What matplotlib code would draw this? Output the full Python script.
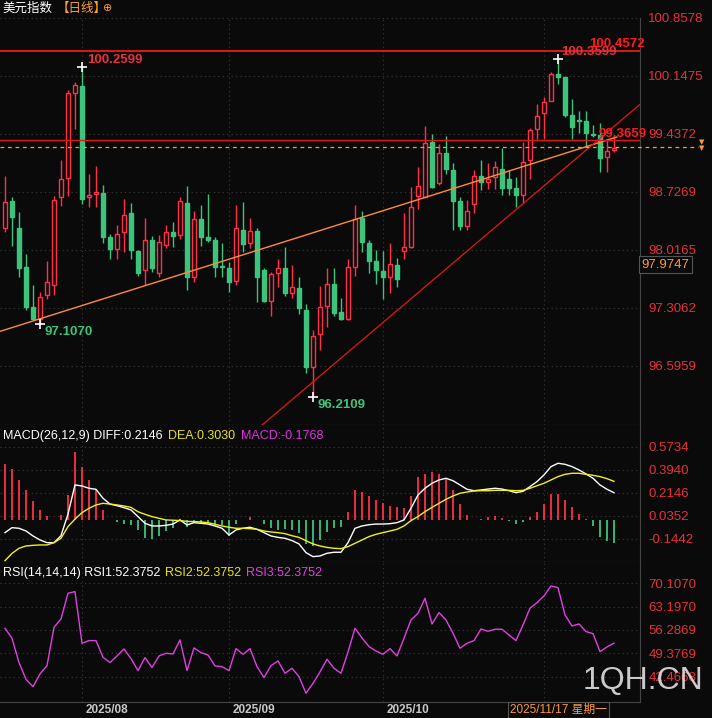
import numpy as np
import matplotlib
matplotlib.use("Agg")
import matplotlib.pyplot as plt

plt.rcParams['font.family'] = ['Liberation Sans', 'Noto Sans CJK SC', 'DejaVu Sans']

# daily candles, 美元指数
opens = [98.28, 98.62, 98.28, 97.81, 97.32, 97.17, 97.47, 97.59, 98.66, 98.90,
         99.94, 100.03, 98.66, 98.70, 98.72, 98.18, 98.03, 98.24, 98.47, 98.01,
         97.77, 98.14, 97.74, 98.08, 98.24, 98.20, 98.59, 97.69, 98.40, 98.18,
         98.14, 97.82, 97.80, 97.64, 98.26, 98.10, 98.25, 97.77, 97.39, 97.74,
         97.80, 97.49, 97.55, 97.28, 96.58, 96.99, 97.33, 97.60, 97.26, 97.17,
         97.81, 98.41, 98.10, 97.88, 97.76, 97.69, 97.83, 98.01, 98.05, 98.68,
         98.67, 99.34, 98.84, 99.21, 99.00, 98.62, 98.31, 98.58, 98.92, 98.85,
         98.91, 99.01, 98.89, 98.78, 98.69, 99.12, 99.50, 99.70, 99.84, 100.17,
         100.13, 99.67, 99.61, 99.60, 99.44, 99.43, 99.16, 99.24]
closes = [98.61, 98.42, 97.80, 97.32, 97.17, 97.44, 97.63, 98.63, 98.89, 99.94,
          100.04, 98.64, 98.69, 98.73, 98.18, 98.03, 98.21, 98.45, 98.02, 97.74,
          98.14, 97.80, 98.12, 98.24, 98.19, 98.62, 97.68, 98.40, 98.18, 98.14,
          97.81, 97.81, 97.63, 98.28, 98.09, 98.25, 97.68, 97.39, 97.72, 97.80,
          97.49, 97.56, 97.30, 96.58, 96.96, 97.32, 97.60, 97.25, 97.17, 97.81,
          98.40, 98.12, 97.88, 97.77, 97.69, 97.85, 97.66, 98.05, 98.54, 98.80,
          99.33, 98.79, 99.21, 99.01, 98.62, 98.31, 98.50, 98.92, 98.85, 98.89,
          99.03, 98.78, 98.78, 98.69, 99.10, 99.49, 99.66, 99.83, 100.17, 100.14,
          99.67, 99.52, 99.60, 99.45, 99.43, 99.14, 99.23, 99.27]
highs = [98.92, 98.67, 98.48, 97.97, 97.59, 97.50, 97.88, 98.68, 99.12, 99.98,
         100.08, 100.2599, 98.95, 99.05, 98.81, 98.21, 98.32, 98.64, 98.59, 98.02,
         98.41, 98.19, 98.20, 98.32, 98.36, 98.66, 98.80, 98.50, 98.57, 98.70,
         98.17, 98.10, 97.87, 98.57, 98.61, 98.41, 98.29, 97.80, 97.75, 97.91,
         98.05, 97.83, 97.68, 97.36, 97.04, 97.58, 97.80, 97.80, 97.43, 97.91,
         98.57, 98.50, 98.14, 98.02, 98.01, 98.10, 97.92, 98.47, 98.79, 99.03,
         99.54, 99.44, 99.32, 99.41, 99.08, 98.67, 98.63, 99.00, 99.12, 99.08,
         99.11, 99.27, 99.00, 98.91, 99.34, 99.51, 99.81, 99.89, 100.20, 100.3599,
         100.14, 99.86, 99.72, 99.72, 99.55, 99.57, 99.37, 99.40]
lows = [98.24, 98.07, 97.68, 97.28, 97.16, 97.107, 97.42, 97.47, 98.56, 98.68,
        99.50, 98.58, 98.54, 98.54, 98.10, 97.91, 97.91, 97.99, 97.90, 97.70,
        97.59, 97.75, 97.68, 98.04, 98.05, 98.15, 97.53, 97.63, 98.07, 98.12,
        97.69, 97.69, 97.50, 97.59, 97.99, 98.04, 97.38, 97.38, 97.21, 97.56,
        97.45, 97.43, 97.23, 96.51, 96.2109, 96.79, 97.07, 97.21, 97.16, 97.16,
        97.70, 97.99, 97.74, 97.60, 97.42, 97.49, 97.56, 97.91, 98.04, 98.52,
        98.66, 98.78, 98.81, 98.95, 98.26, 98.26, 98.26, 98.47, 98.75, 98.76,
        98.76, 98.69, 98.69, 98.54, 98.59, 98.89, 99.38, 99.38, 99.86, 100.05,
        99.65, 99.38, 99.45, 99.28, 99.40, 98.97, 98.97, 99.22]

diff = [-0.097, -0.058, -0.063, -0.084, -0.123, -0.154, -0.175, -0.175, -0.121, 0.048,
        0.275, 0.267, 0.249, 0.241, 0.171, 0.126, 0.113, 0.098, 0.080, 0.028,
        -0.024, -0.045, -0.045, -0.040, -0.030, 0.002, -0.037, -0.019, -0.024, -0.030,
        -0.045, -0.063, -0.115, -0.076, -0.063, -0.055, -0.071, -0.097, -0.123, -0.134,
        -0.141, -0.159, -0.185, -0.253, -0.284, -0.279, -0.258, -0.250, -0.250, -0.175,
        -0.063, -0.045, -0.035, -0.030, -0.030, -0.027, -0.019, 0.002, 0.093, 0.197,
        0.249, 0.288, 0.314, 0.327, 0.308, 0.275, 0.241, 0.230, 0.236, 0.243,
        0.249, 0.243, 0.230, 0.215, 0.225, 0.262, 0.301, 0.353, 0.418, 0.444,
        0.436, 0.418, 0.392, 0.361, 0.327, 0.275, 0.241, 0.2146]
dea = [-0.316, -0.259, -0.219, -0.201, -0.196, -0.193, -0.193, -0.175, -0.141, -0.050,
       0.009, 0.059, 0.093, 0.119, 0.132, 0.126, 0.119, 0.111, 0.100, 0.066,
       0.046, 0.028, 0.015, 0.002, 0.000, -0.003, -0.009, -0.011, -0.014, -0.019,
       -0.032, -0.045, -0.055, -0.063, -0.063, -0.066, -0.071, -0.084, -0.092, -0.097,
       -0.105, -0.121, -0.134, -0.160, -0.185, -0.201, -0.212, -0.219, -0.222, -0.206,
       -0.180, -0.154, -0.128, -0.110, -0.097, -0.084, -0.071, -0.045, -0.003, 0.028,
       0.067, 0.100, 0.132, 0.163, 0.189, 0.210, 0.220, 0.228, 0.230, 0.230,
       0.233, 0.233, 0.233, 0.230, 0.233, 0.249, 0.269, 0.288, 0.314, 0.340,
       0.358, 0.366, 0.366, 0.358, 0.350, 0.340, 0.324, 0.3030]
rsi = [56.78, 53.82, 46.62, 41.68, 39.51, 43.26, 45.73, 57.08, 59.55, 67.15,
       67.64, 52.34, 53.13, 53.13, 48.20, 46.62, 48.59, 50.66, 47.80, 44.25,
       48.10, 45.14, 48.59, 49.38, 49.18, 53.33, 44.25, 50.96, 49.57, 48.88,
       45.63, 45.43, 44.25, 50.76, 49.08, 50.76, 45.43, 42.17, 45.73, 47.11,
       43.46, 44.94, 42.47, 37.54, 40.50, 43.85, 47.61, 44.94, 43.46, 49.77,
       56.78, 53.92, 51.35, 50.07, 49.08, 50.76, 48.59, 53.82, 59.25, 61.22,
       65.66, 58.07, 61.42, 59.25, 55.30, 50.86, 52.34, 53.13, 56.58, 55.89,
       56.49, 56.49, 54.81, 53.13, 57.77, 62.70, 64.38, 66.36, 69.32, 68.82,
       60.73, 57.47, 58.07, 55.80, 55.20, 49.87, 51.26, 52.38]

price_ticks = [100.8578, 100.1475, 99.4372, 98.7269, 98.0165, 97.3062, 96.5959]
macd_ticks = [0.5734, 0.3940, 0.2146, 0.0352, -0.1442]
rsi_ticks = [70.1070, 63.1970, 56.2869, 49.3769, 42.4668]
month_idx = [11, 32, 54, 77]
month_labels = ['2025/08', '2025/09', '2025/10']

# trend lines (x in candle index, y in price)
orange_line = ([-0.7, 87.4], [97.02, 99.40])
red_line = ([36.7, 91.4], [95.87, 99.85])
resist_hi = 100.4572
resist_lo = 99.3659
last_level = 99.278

BG = '#0a0a0a'
UP = '#ff3048'
DOWN = '#3cc47c'
AXC = '#e8303c'
GRID = '#3a3a3a'

W, H = 712, 718
fig = plt.figure(figsize=(W / 100, H / 100), dpi=100, facecolor=BG)

def mk(top, bot):
    return fig.add_axes([0, 1 - bot / H, 640 / W, (bot - top) / H], facecolor=BG)

ax = mk(18, 425)
axm = mk(425, 562)
axr = mk(562, 702)

n = len(closes)
idx = np.arange(n)
xlim = (-5 / 7, 635 / 7)

for a in (ax, axm, axr):
    a.set_xlim(*xlim)
    a.yaxis.tick_right()
    a.tick_params(axis='y', length=0, pad=6, labelcolor=AXC, labelsize=9.5)
    a.set_xticks([])
    for s in a.spines.values():
        s.set_color('#444444')
        s.set_linewidth(0.8)
    a.spines['left'].set_visible(False)
    a.spines['top'].set_visible(False)
    for m in month_idx:
        a.axvline(m, color=GRID, lw=0.8, ls=(0, (1, 3)), zorder=0)

# main panel
ax.set_ylim(95.873, 100.8578)
ax.set_yticks(price_ticks)
ax.set_yticklabels([f'{v:.4f}' for v in price_ticks])
for v in price_ticks:
    ax.axhline(v, color=GRID, lw=0.8, ls=(0, (1, 3)), zorder=0)

for i in idx:
    o, c, h, l = opens[i], closes[i], highs[i], lows[i]
    up = c >= o
    col = UP if up else DOWN
    lo_b, hi_b = min(o, c), max(o, c)
    ax.vlines(i, l, lo_b, color=col, lw=1, zorder=2)
    ax.vlines(i, hi_b, h, color=col, lw=1, zorder=2)
    ht = max(hi_b - lo_b, 0.012)
    ax.add_patch(plt.Rectangle((i - 0.32, lo_b), 0.64, ht, facecolor=BG if up else col,
                               edgecolor=col, lw=1, zorder=3))

ax.plot(*orange_line, color='#ff8c3a', lw=1, zorder=4)
ax.plot(*red_line, color='#e01818', lw=0.9, zorder=4)
ax.axhline(resist_hi, color='#ff1a1a', lw=1.2, zorder=4)
ax.axhline(resist_lo, color='#e01818', lw=1, zorder=4)
ax.plot([xlim[0], 99], [last_level, last_level], color='#ff9a3c', lw=0.9,
        ls=(0, (3, 3)), clip_on=False, zorder=4)
ax.text(99.5, last_level + 0.02, '▼', color='#ff9a3c', fontsize=5, ha='center', va='bottom',
        clip_on=False, family=['DejaVu Sans'])
ax.text(99.5, last_level - 0.05, '▼', color='#ff9a3c', fontsize=5, ha='center', va='bottom',
        clip_on=False, family=['DejaVu Sans'])

lab = dict(fontsize=9.5, fontweight='bold', zorder=6)
ax.text(11.8, 100.31, '100.2599', color=AXC, **lab)
ax.text(79.5, 100.40, '100.3599', color=AXC, **lab)
ax.text(83.5, 100.50, '100.4572', color='#ff1a1a', **lab)
ax.text(84.8, 99.40, '99.3659', color='#ff1a1a', **lab)
ax.text(5.7, 96.97, '97.1070', color=DOWN, **lab)
ax.text(44.7, 96.08, '96.2109', color=DOWN, **lab)
for i, v in [(11, highs[11]), (79, highs[79]), (5, lows[5]), (44, lows[44])]:
    ax.plot(i, v, marker='+', color='white', ms=7, mew=1.2, zorder=7)

# current price box
ax.text(90.9, 97.835, '97.9747', color='#ff9a3c', fontsize=9.5, va='center', ha='left',
        clip_on=False, bbox=dict(boxstyle='square,pad=0.2', fc=BG, ec='#555555', lw=0.8))

# header
fig.text(0.004, 1 - 8 / H, '美元指数', color='white', fontsize=9, va='center',
         family=['Noto Sans CJK SC'])
fig.text(0.08, 1 - 8 / H, '【日线】', color='#ffa030', fontsize=9, va='center',
         family=['Noto Sans CJK SC'])
fig.text(0.145, 1 - 8 / H, '⊕', color='#ffa030', fontsize=8, va='center',
         family=['DejaVu Sans'])

# MACD panel
hist = 2 * (np.array(diff) - np.array(dea))
axm.set_ylim(-0.326, 0.7426)
axm.set_yticks(macd_ticks)
axm.set_yticklabels([f'{v:.4f}' for v in macd_ticks])
for v in macd_ticks:
    axm.axhline(v, color=GRID, lw=0.8, ls=(0, (1, 3)), zorder=0)
axm.vlines(idx, 0, hist, colors=[UP if h >= 0 else DOWN for h in hist], lw=1.3, zorder=2)
axm.plot(idx, diff, color='white', lw=1, zorder=3)
axm.plot(idx, dea, color='#f0f020', lw=1, zorder=3)
ty = 1 - 11 / 137
axm.text(0.005, ty, 'MACD(26,12,9) DIFF:0.2146', color='white', fontsize=9,
         transform=axm.transAxes, va='center')
axm.text(168 / 640, ty, 'DEA:0.3030', color='#e8e020', fontsize=9,
         transform=axm.transAxes, va='center')
axm.text(241 / 640, ty, 'MACD:-0.1768', color='#e030e0', fontsize=9,
         transform=axm.transAxes, va='center')

# RSI panel
axr.set_ylim(34.95, 76.41)
axr.set_yticks(rsi_ticks)
axr.set_yticklabels([f'{v:.4f}' for v in rsi_ticks])
for v in rsi_ticks:
    axr.axhline(v, color=GRID, lw=0.8, ls=(0, (1, 3)), zorder=0)
axr.plot(idx, rsi, color='#e040e0', lw=1, zorder=3)
ty = 1 - 11 / 140
axr.text(0.005, ty, 'RSI(14,14,14) RSI1:52.3752', color='white', fontsize=9,
         transform=axr.transAxes, va='center')
axr.text(165 / 640, ty, 'RSI2:52.3752', color='#e8e020', fontsize=9,
         transform=axr.transAxes, va='center')
axr.text(246 / 640, ty, 'RSI3:52.3752', color='#e040e0', fontsize=9,
         transform=axr.transAxes, va='center')

# date axis
for m, t in zip(month_idx[:3], month_labels):
    x = (5 + 7 * m) / W
    fig.text(x + 4 / W, 1 - 710 / H, t, color='#c8c8c8', fontsize=8.5, va='center',
             fontweight='bold')
fig.text(510 / W, 1 - 710 / H, '2025/11/17 星期一', color='#ff9a3c', fontsize=8.5,
         va='center', family=['Liberation Sans', 'Noto Sans CJK SC'],
         bbox=dict(boxstyle='square,pad=0.15', fc=BG, ec='#555555', lw=0.8))

fig.text(643 / W, 1 - 681 / H, '1QH.CN', color='#e0e0e0', fontsize=23, ha='center',
         va='center', alpha=0.9)

fig.savefig('out.png', dpi=100, facecolor=BG)
